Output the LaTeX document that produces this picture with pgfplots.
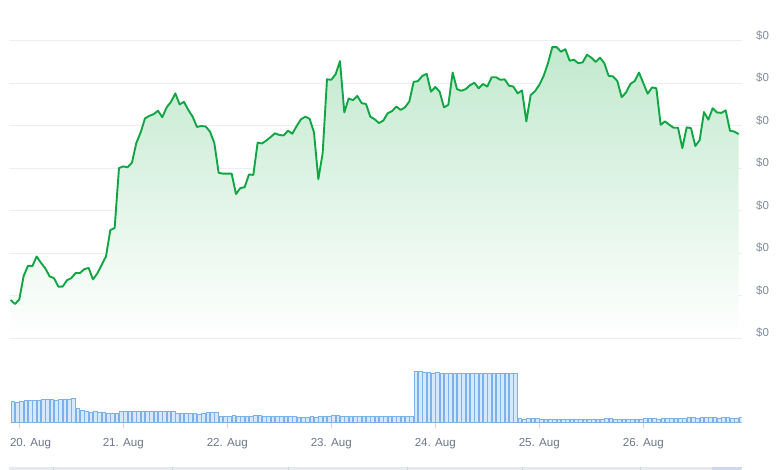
\documentclass[border=0pt]{standalone}
\usepackage{fontspec}
\setmainfont{Liberation Sans}
\usepackage{pgfplots}
\usepackage{pgfplotstable}
\pgfplotsset{compat=1.18}

\definecolor{pricegreen}{RGB}{16,166,68}
\definecolor{fillgreen}{RGB}{194,233,206}
\definecolor{gridgray}{RGB}{236,238,241}
\definecolor{labelgray}{RGB}{128,138,156}
\definecolor{xlabelgray}{RGB}{108,118,138}
\definecolor{volfill}{RGB}{214,232,251}
\definecolor{voldraw}{RGB}{124,178,236}
\definecolor{navband}{RGB}{230,234,240}
\definecolor{navline}{RGB}{205,210,218}
\definecolor{navhandle}{RGB}{208,216,238}

% hourly price, hours from 20 Aug 00:00 (grid units)
\pgfplotstableread{
h v
-2 0.895
-1 0.80
0 0.91
1 1.46
2 1.70
3 1.69
4 1.92
5 1.77
6 1.64
7 1.45
8 1.41
9 1.21
10 1.21
11 1.36
12 1.41
13 1.53
14 1.53
15 1.62
16 1.65
17 1.38
18 1.52
19 1.72
20 1.92
21 2.54
22 2.59
23 4.00
24 4.04
25 4.02
26 4.13
27 4.59
28 4.84
29 5.17
30 5.23
31 5.27
32 5.35
33 5.20
34 5.43
35 5.56
36 5.76
37 5.50
38 5.56
39 5.37
40 5.21
41 4.97
42 4.99
43 4.98
44 4.86
45 4.59
46 3.89
47 3.87
48 3.87
49 3.87
50 3.39
51 3.53
52 3.55
53 3.85
54 3.84
55 4.60
56 4.58
57 4.65
58 4.73
59 4.82
60 4.78
61 4.77
62 4.88
63 4.81
64 4.99
65 5.15
66 5.21
67 5.16
68 4.84
69 3.74
70 4.35
71 6.09
72 6.08
73 6.21
74 6.52
75 5.31
76 5.64
77 5.60
78 5.70
79 5.53
80 5.51
81 5.21
82 5.15
83 5.06
84 5.12
85 5.29
86 5.34
87 5.45
88 5.37
89 5.43
90 5.57
91 6.03
92 6.05
93 6.17
94 6.22
95 5.80
96 5.91
97 5.80
98 5.43
99 5.49
100 6.25
101 5.86
102 5.82
103 5.86
104 5.95
105 6.01
106 5.88
107 5.98
108 5.92
109 6.14
110 6.14
111 6.08
112 6.09
113 5.94
114 5.92
115 5.76
116 5.83
117 5.10
118 5.72
119 5.81
120 5.96
121 6.17
122 6.47
123 6.85
124 6.85
125 6.74
126 6.80
127 6.53
128 6.55
129 6.47
130 6.49
131 6.67
132 6.60
133 6.50
134 6.60
135 6.47
136 6.17
137 6.16
138 6.05
139 5.67
140 5.78
141 5.98
142 6.05
143 6.25
144 6.00
145 5.75
146 5.90
147 5.88
148 5.02
149 5.10
150 5.02
151 4.95
152 4.95
153 4.47
154 4.96
155 4.94
156 4.52
157 4.66
158 5.32
159 5.14
160 5.41
161 5.31
162 5.30
163 5.36
164 4.88
165 4.86
166 4.80
}\price

% hourly volume
\pgfplotstableread{
h vol
-2 21
-1 20.5
0 21
1 22
2 22.3
3 22.3
4 22.7
5 23
6 23
7 23.3
8 22.7
9 23
10 23.7
11 23
12 24
13 14.3
14 12.7
15 11.3
16 10.7
17 11
18 10.3
19 10
20 9.7
21 9.3
22 9
23 11.7
24 11.7
25 11.7
26 11.7
27 11.7
28 11.7
29 11.7
30 11.7
31 11.7
32 11.7
33 11.7
34 11.7
35 11.7
36 9
37 9.3
38 9.7
39 9
40 9
41 8.7
42 9
43 10
44 10
45 10.7
46 6.7
47 6.3
48 6.7
49 7
50 6.7
51 6.3
52 6.7
53 6.7
54 7.3
55 7
56 6.7
57 6.7
58 6.3
59 6.7
60 6
61 6
62 6.3
63 6
64 5.7
65 5.3
66 5.7
67 6
68 5.7
69 6.3
70 6.3
71 6.7
72 7
73 7
74 6.7
75 6.3
76 6.7
77 6.7
78 6.3
79 6.3
80 6
81 6.3
82 6.3
83 6.7
84 6.3
85 6.7
86 6.3
87 6.7
88 6.7
89 6.7
90 6.7
91 51
92 51
93 50.3
94 50
95 49.7
96 50.3
97 49.7
98 49
99 49.3
100 49.3
101 49.3
102 49.3
103 49.3
104 49.3
105 49.3
106 49.3
107 49.3
108 49.3
109 49.7
110 49.3
111 49
112 49
113 49.3
114 49.3
115 4.0
116 3.7
117 4.0
118 4.3
119 4.0
120 3.3
121 3.3
122 3.7
123 3.3
124 3.3
125 3.3
126 3.7
127 3.3
128 3.3
129 3.3
130 3.3
131 3.3
132 3.7
133 3.3
134 3.7
135 4.3
136 4.3
137 3.7
138 3.7
139 3.3
140 3.3
141 3.0
142 3.7
143 3.7
144 4.0
145 4.3
146 4.0
147 3.7
148 4.3
149 4.3
150 4.7
151 4.3
152 4.3
153 4.7
154 5.0
155 5.0
156 4.7
157 5.3
158 5.0
159 5.3
160 5.3
161 4.7
162 5.0
163 5.3
164 4.3
165 4.7
166 5.0
}\volume

\begin{document}
\begin{tikzpicture}
\useasboundingbox (0,0) rectangle (780pt,470pt);

% price
\begin{axis}[
  at={(9.3pt,132pt)}, anchor=south west, scale only axis,
  width=732.4pt, height=297.3pt,
  xmin=-2.31, xmax=166.7, ymin=0, ymax=7,
  axis line style={draw=none},
  xtick=\empty,
  ytick={0,1,...,7},
  ymajorgrids,
  grid style={gridgray, line width=0.8pt},
  major tick length=0pt,
  yticklabel pos=right,
  yticklabel={\$0},
  yticklabel style={anchor=base west, inner sep=0pt, xshift=14.3pt, yshift=1.5pt,
    text=labelgray, font=\fontsize{11.5}{13}\selectfont},
]
\addplot[draw=none, top color=fillgreen, bottom color=white] table[x=h, y=v] {\price} \closedcycle;
\addplot[pricegreen, line width=1.9pt, line join=round] table[x=h, y=v] {\price};
\end{axis}

% volume
\begin{axis}[
  at={(9.3pt,47.3pt)}, anchor=south west, scale only axis,
  width=732.4pt, height=62.7pt,
  xmin=-2.31, xmax=166.7, ymin=0, ymax=62.7,
  axis line style={draw=none},
  ytick=\empty,
  xtick={0,24,48,72,96,120,144},
  xticklabels={\makebox[0pt][l]{\hspace*{-9.3pt}20. Aug},21. Aug,22. Aug,23. Aug,24. Aug,25. Aug,26. Aug},
  xtick pos=bottom, tick align=outside, major tick length=5pt,
  tick style={draw=gray!35, line width=0.6pt},
  xticklabel style={anchor=base, inner sep=0pt, yshift=-19pt,
    text=xlabelgray, font=\fontsize{11.6}{13}\selectfont},
  ybar, bar width=3.5pt, bar shift=2.17pt,
]
\addplot[fill=volfill, draw=voldraw, line width=0.55pt] table[x=h, y=vol] {\volume};
\end{axis}

% navigator strip
\begin{axis}[
  at={(9.3pt,0pt)}, anchor=south west, scale only axis,
  width=732.4pt, height=3pt,
  xmin=-2.31, xmax=166.7, ymin=0, ymax=1,
  axis line style={draw=none},
  axis background/.style={fill=navband},
  ytick=\empty,
  xtick={7.8,35.2,62.0,89.5,116.0,143.4},
  xticklabels={},
  major tick length=0pt,
  xmajorgrids,
  grid style={navline, line width=0.6pt},
]
\addplot[fill=navhandle, draw=none] coordinates {(159.9,1) (166.7,1)} \closedcycle;
\end{axis}
\end{tikzpicture}
\end{document}
